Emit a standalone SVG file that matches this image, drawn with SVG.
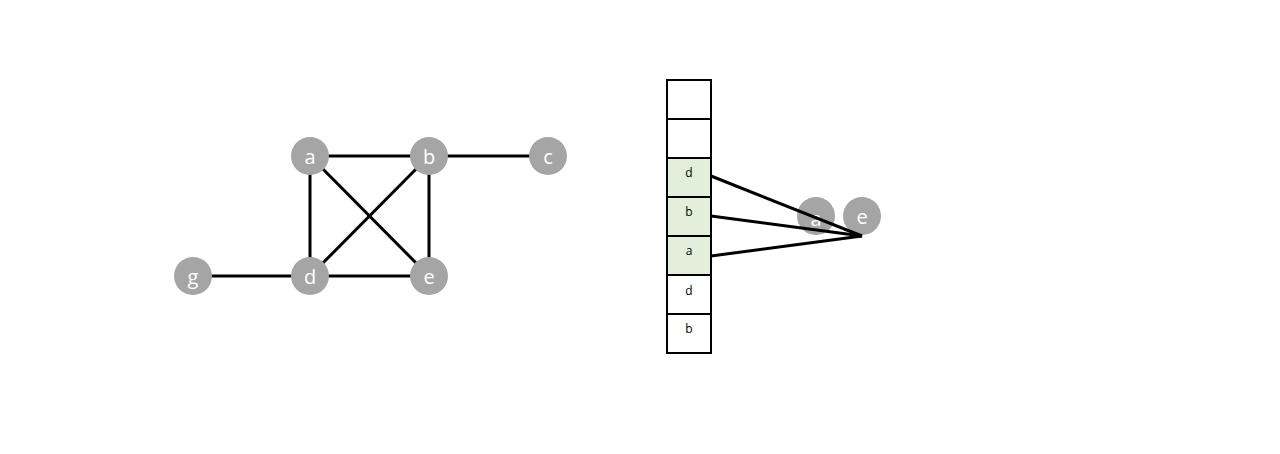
<svg xmlns="http://www.w3.org/2000/svg" width="1280" height="454" viewBox="0 0 1280 454">
<style>
.n{fill:#A5A5A5}
.nl{fill:#FFFFFF;font-family:"Open Sans","Liberation Sans",sans-serif;font-size:20px;text-anchor:middle;dominant-baseline:central}
.e{stroke:#000;stroke-width:3;fill:none}
.cell{stroke:#000;stroke-width:2;fill:#FFFFFF}
.hl{fill:#E2EFDA}
.cl{fill:#000;font-family:"Open Sans","Liberation Sans",sans-serif;font-size:12px;text-anchor:middle;dominant-baseline:central}
</style>
<rect width="1280" height="454" fill="#FFFFFF"/>
<g id="edges">
<line class="e" x1="310" y1="156" x2="429" y2="156"/>
<line class="e" x1="429" y1="156" x2="548" y2="156"/>
<line class="e" x1="310" y1="156" x2="310" y2="276"/>
<line class="e" x1="429" y1="156" x2="429" y2="276"/>
<line class="e" x1="310" y1="156" x2="429" y2="276"/>
<line class="e" x1="429" y1="156" x2="310" y2="276"/>
<line class="e" x1="193" y1="276" x2="310" y2="276"/>
<line class="e" x1="310" y1="276" x2="429" y2="276"/>
</g>
<g id="node-a"><circle class="n" cx="310" cy="156" r="19"/><text class="nl" x="310" y="156">a</text></g>
<g id="node-b"><circle class="n" cx="429" cy="156" r="19"/><text class="nl" x="429" y="156">b</text></g>
<g id="node-c"><circle class="n" cx="548" cy="156" r="19"/><text class="nl" x="548" y="156">c</text></g>
<g id="node-g"><circle class="n" cx="193" cy="276" r="19"/><text class="nl" x="193" y="276">g</text></g>
<g id="node-d"><circle class="n" cx="310" cy="276" r="19"/><text class="nl" x="310" y="276">d</text></g>
<g id="node-e"><circle class="n" cx="429" cy="276" r="19"/><text class="nl" x="429" y="276">e</text></g>
<g id="stack">
<rect class="cell" x="667" y="80" width="44" height="39"/>
<rect class="cell" x="667" y="119" width="44" height="39"/>
<rect class="cell hl" x="667" y="158" width="44" height="39"/>
<rect class="cell hl" x="667" y="197" width="44" height="39"/>
<rect class="cell hl" x="667" y="236" width="44" height="39"/>
<rect class="cell" x="667" y="275" width="44" height="39"/>
<rect class="cell" x="667" y="314" width="44" height="39"/>
<text class="cl" x="689" y="172">d</text>
<text class="cl" x="689" y="211">b</text>
<text class="cl" x="689" y="250">a</text>
<text class="cl" x="689" y="290">d</text>
<text class="cl" x="689" y="328">b</text>
</g>
<g id="node-a2"><circle class="n" cx="816" cy="216" r="19"/><text class="nl" x="816" y="218">a</text></g>
<g id="node-e2"><circle class="n" cx="862" cy="216" r="19"/><text class="nl" x="862" y="216">e</text></g>
<g id="pointers">
<line class="e" x1="711" y1="176" x2="862" y2="236"/>
<line class="e" x1="711" y1="216" x2="862" y2="236"/>
<line class="e" x1="711" y1="256" x2="862" y2="236"/>
</g>
</svg>
